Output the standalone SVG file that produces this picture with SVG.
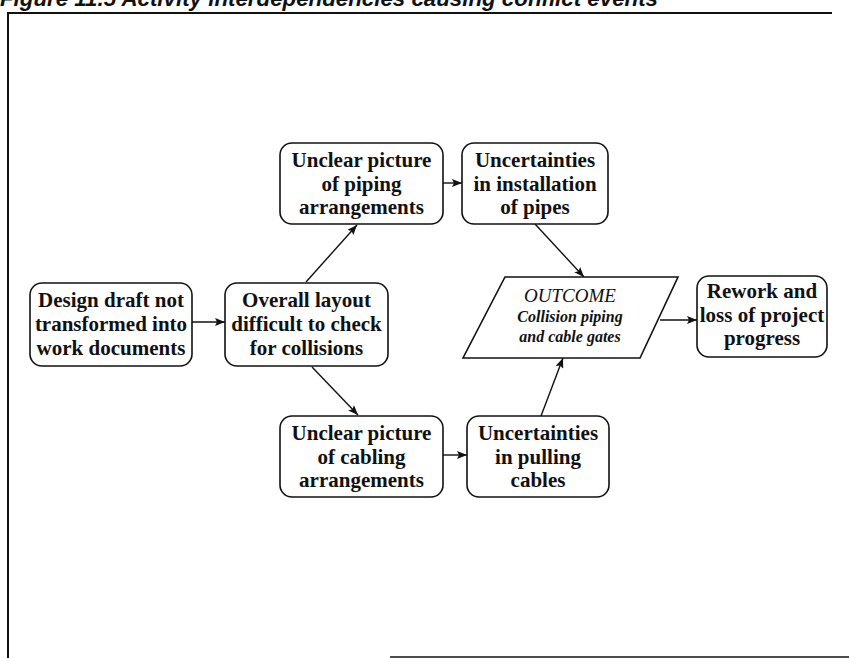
<svg xmlns="http://www.w3.org/2000/svg" width="849" height="658" viewBox="0 0 849 658">
  <style>
    .box { fill: #fff; stroke: #111; stroke-width: 1.6; }
    .lbl { font-family: "Liberation Serif", "Times New Roman", serif; font-weight: bold; font-size: 21px; fill: #111; text-anchor: middle; }
    .out1 { font-family: "Liberation Serif", "Times New Roman", serif; font-style: italic; font-size: 19px; fill: #111; text-anchor: middle; }
    .out2 { font-family: "Liberation Serif", "Times New Roman", serif; font-style: italic; font-weight: bold; font-size: 16px; fill: #111; text-anchor: middle; }
    .title { font-family: "Liberation Sans", Arial, sans-serif; font-style: italic; font-weight: bold; font-size: 22px; fill: #111; }
    .edge { stroke: #111; stroke-width: 1.4; fill: none; marker-end: url(#arrow); }
    .frame { stroke: #111; fill: none; }
  </style>
  <defs>
    <marker id="arrow" viewBox="0 0 10 8" refX="10" refY="4" markerWidth="10" markerHeight="8" markerUnits="userSpaceOnUse" orient="auto">
      <path d="M0,0 L10,4 L0,8 L2,4 Z" fill="#111"/>
    </marker>
  </defs>

  <rect width="849" height="658" fill="#fff"/>

  <!-- caption along the top edge -->
  <text class="title" x="0" y="6" textLength="658" lengthAdjust="spacingAndGlyphs">Figure 11.5 Activity interdependencies causing conflict events</text>

  <!-- figure frame -->
  <g id="frame">
    <line class="frame" x1="7" y1="13" x2="832" y2="13" stroke-width="2.2"/>
    <line class="frame" x1="8" y1="12" x2="8" y2="658" stroke-width="2"/>
    <line class="frame" x1="390" y1="657" x2="849" y2="657" stroke-width="1.6" stroke="#444"/>
  </g>

  <!-- connectors -->
  <g id="connectors">
    <line class="edge" x1="192" y1="322" x2="225" y2="322"/>
    <line class="edge" x1="306" y1="282" x2="357" y2="225"/>
    <line class="edge" x1="312" y1="367" x2="358" y2="415"/>
    <line class="edge" x1="443" y1="183" x2="462" y2="183"/>
    <line class="edge" x1="535" y1="224" x2="584" y2="277"/>
    <line class="edge" x1="443" y1="455" x2="467" y2="455"/>
    <line class="edge" x1="541" y1="416" x2="563" y2="358"/>
    <line class="edge" x1="660" y1="320" x2="697" y2="320"/>
  </g>

  <g id="design-draft">
    <rect class="box" x="30" y="283" width="162" height="83" rx="12"/>
    <text class="lbl" x="111" y="307">Design draft not</text>
    <text class="lbl" x="111" y="331">transformed into</text>
    <text class="lbl" x="111" y="355">work documents</text>
  </g>

  <g id="overall-layout">
    <rect class="box" x="225" y="283" width="163" height="83" rx="12"/>
    <text class="lbl" x="306.5" y="307">Overall layout</text>
    <text class="lbl" x="306.5" y="331">difficult to check</text>
    <text class="lbl" x="306.5" y="355">for collisions</text>
  </g>

  <g id="piping-picture">
    <rect class="box" x="280" y="143" width="163" height="81" rx="12"/>
    <text class="lbl" x="361.5" y="167">Unclear picture</text>
    <text class="lbl" x="361.5" y="191">of piping</text>
    <text class="lbl" x="361.5" y="214">arrangements</text>
  </g>

  <g id="pipe-installation">
    <rect class="box" x="462" y="143" width="146" height="81" rx="12"/>
    <text class="lbl" x="535" y="167">Uncertainties</text>
    <text class="lbl" x="535" y="191">in installation</text>
    <text class="lbl" x="535" y="214">of pipes</text>
  </g>

  <g id="outcome">
    <polygon class="box" points="505,277 678,277 640,358 463,358"/>
    <text class="out1" x="570" y="302">OUTCOME</text>
    <text class="out2" x="570" y="322">Collision piping</text>
    <text class="out2" x="570" y="342">and cable gates</text>
  </g>

  <g id="rework">
    <rect class="box" x="697" y="276" width="130" height="81" rx="12"/>
    <text class="lbl" x="762" y="298">Rework and</text>
    <text class="lbl" x="762" y="322">loss of project</text>
    <text class="lbl" x="762" y="345">progress</text>
  </g>

  <g id="cabling-picture">
    <rect class="box" x="280" y="416" width="163" height="81" rx="12"/>
    <text class="lbl" x="361.5" y="440">Unclear picture</text>
    <text class="lbl" x="361.5" y="464">of cabling</text>
    <text class="lbl" x="361.5" y="487">arrangements</text>
  </g>

  <g id="cable-pulling">
    <rect class="box" x="467" y="416" width="142" height="81" rx="12"/>
    <text class="lbl" x="538" y="440">Uncertainties</text>
    <text class="lbl" x="538" y="464">in pulling</text>
    <text class="lbl" x="538" y="487">cables</text>
  </g>
</svg>
